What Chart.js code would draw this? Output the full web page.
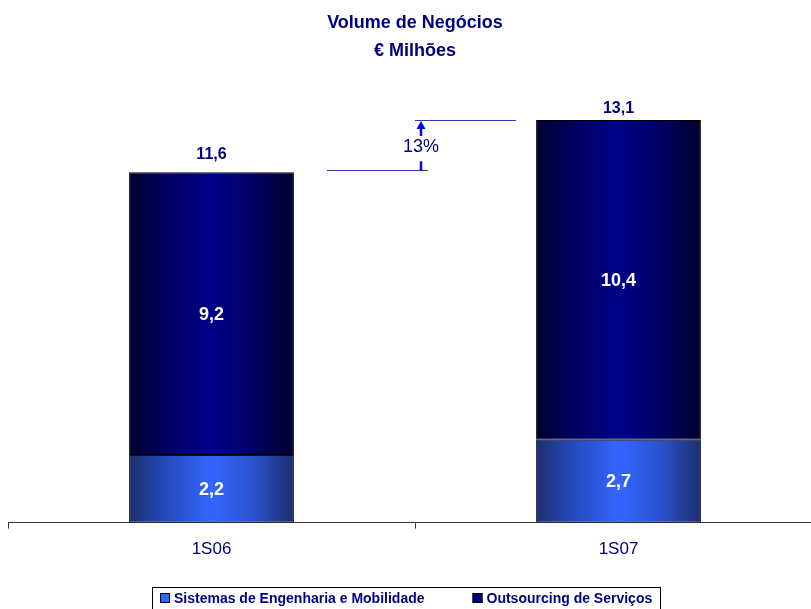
<!DOCTYPE html>
<html>
<head>
<meta charset="utf-8">
<script src="https://cdn.jsdelivr.net/npm/chart.js@4/dist/chart.umd.min.js"></script>
<style>
  html, body { margin: 0; padding: 0; background: #fff; overflow: hidden; }
  #wrap { width: 822px; height: 609px; }
</style>
</head>
<body>
<div id="wrap"><canvas id="volChart"></canvas></div>
<script>
const labels = ["1S06", "1S07"];
const sistemas = [2.2, 2.7];
const outsourcing = [9.2, 10.4];
const totals = [11.6, 13.1];
const growthLabel = "13%";
const seriesNames = ["Sistemas de Engenharia e Mobilidade", "Outsourcing de Serviços"];
const legendColors = ["#3366ff", "#000080"];

const NAVY = "#000080";
const FONT = "'Liberation Sans', Arial, sans-serif";

// horizontal shading across each bar, like the original
function barGradient(ctx, stops, fallback) {
    const chart = ctx.chart;
    const xs = chart.scales.x;
    if (!chart.chartArea || !xs || ctx.dataIndex === undefined) return fallback;
    const cx = xs.getPixelForValue(ctx.dataIndex);
    const w = (xs.width / labels.length) * 0.405;
    const g = chart.ctx.createLinearGradient(cx - w / 2, 0, cx + w / 2, 0);
    stops.forEach(s => g.addColorStop(s[0], s[1]));
    return g;
}
const lightStops = [[0, "#1c2e6c"], [0.2, "#2447b4"], [0.5, "#3366ff"], [0.75, "#2c52d0"], [1, "#1c2e6c"]];
const darkStops = [[0, "#00002e"], [0.25, "#000066"], [0.5, "#000088"], [0.75, "#000066"], [1, "#00002e"]];

function fmt(v) {
    return v.toFixed(1).replace(".", ",");
}

const labelPlugin = {
    id: "valueLabels",
    afterDatasetsDraw(chart) {
        const c = chart.ctx;
        c.save();
        c.textAlign = "center";
        c.textBaseline = "middle";
        c.font = "bold 18px " + FONT;
        c.fillStyle = "#ffffff";
        chart.data.datasets.forEach((ds, di) => {
            chart.getDatasetMeta(di).data.forEach((bar, i) => {
                c.fillText(fmt(ds.data[i]), bar.x, (bar.y + bar.base) / 2 + 1);
            });
        });
        // totals above the bars
        c.font = "bold 16px " + FONT;
        c.fillStyle = NAVY;
        const ys = chart.scales.y;
        const xs = chart.scales.x;
        totals.forEach((t, i) => {
            c.fillText(fmt(t), xs.getPixelForValue(i), ys.getPixelForValue(t) - 12);
        });

        // growth annotation between the two totals
        const mid = (xs.getPixelForValue(0) + xs.getPixelForValue(1)) / 2;
        const yLow = ys.getPixelForValue(totals[0]) + 4;
        const yHigh = ys.getPixelForValue(totals[1]);
        c.strokeStyle = "#3333aa";
        c.lineWidth = 1;
        c.beginPath();
        c.moveTo(mid - 88, Math.round(yLow) + 0.5); c.lineTo(mid + 13, Math.round(yLow) + 0.5);
        c.moveTo(mid, Math.round(yHigh) + 0.5); c.lineTo(mid + 101, Math.round(yHigh) + 0.5);
        c.stroke();
        const ax = mid + 6;
        c.strokeStyle = "#0000ff";
        c.fillStyle = "#0000ff";
        c.lineWidth = 2.5;
        c.beginPath();
        c.moveTo(ax, yHigh + 7); c.lineTo(ax, yHigh + 16);
        c.moveTo(ax, yLow - 9); c.lineTo(ax, yLow);
        c.stroke();
        c.beginPath();
        c.moveTo(ax, yHigh + 1); c.lineTo(ax - 4.5, yHigh + 9); c.lineTo(ax + 4.5, yHigh + 9);
        c.closePath();
        c.fill();
        c.font = "18px " + FONT;
        c.fillStyle = NAVY;
        c.fillText(growthLabel, ax, (yHigh + yLow) / 2 + 2);
        c.restore();
    },
    afterDraw(chart) {
        // framed legend at the foot, as in the source slide
        const c = chart.ctx;
        c.save();
        c.font = "bold 14px " + FONT;
        c.textBaseline = "middle";
        const sq = 10, gap = 4, between = 48, margin = 8;
        const widths = seriesNames.map(n => c.measureText(n).width);
        const total = margin * 2 + widths.reduce((a, w) => a + sq + gap + w, 0) + between;
        const left = Math.round(chart.width / 2 - 5 - total / 2);
        const top = 587;
        const cy = top + 11;
        c.strokeStyle = "#000000";
        c.lineWidth = 1;
        c.strokeRect(left + 0.5, top + 0.5, Math.round(total), 40);
        let x = left + margin;
        seriesNames.forEach((n, i) => {
            c.fillStyle = legendColors[i];
            c.fillRect(x, cy - sq / 2, sq, sq);
            c.strokeRect(x + 0.5, cy - sq / 2 + 0.5, sq - 1, sq - 1);
            c.fillStyle = NAVY;
            c.fillText(n, x + sq + gap, cy + 1);
            x += sq + gap + widths[i] + between;
        });
        c.restore();
    }
};

new Chart("volChart", {
    type: "bar",
    data: {
        labels: labels,
        datasets: [{
            label: seriesNames[0],
            data: sistemas,
            backgroundColor: ctx => barGradient(ctx, lightStops, "#3366ff"),
            borderColor: "#0a0a30",
            borderWidth: 1,
            borderSkipped: false,
            categoryPercentage: 0.405,
            barPercentage: 1
        }, {
            label: seriesNames[1],
            data: outsourcing,
            backgroundColor: ctx => barGradient(ctx, darkStops, "#000080"),
            borderColor: "#000000",
            borderWidth: 1,
            borderSkipped: false,
            categoryPercentage: 0.405,
            barPercentage: 1
        }]
    },
    options: {
        responsive: true,
        maintainAspectRatio: false,
        animation: false,
        layout: { padding: { left: 8, right: 0, top: 0, bottom: 38 } },
        scales: {
            x: {
                stacked: true,
                grid: { display: true, offset: true, drawOnChartArea: false, drawTicks: true, tickLength: 6, color: "#333333" },
                border: { display: true, color: "#333333", width: 1 },
                ticks: { color: NAVY, font: { family: FONT, size: 17 }, padding: 11 }
            },
            y: {
                stacked: true,
                display: false,
                min: 0,
                max: 14.9
            }
        },
        plugins: {
            title: {
                display: true,
                text: ["Volume de Negócios", "€ Milhões"],
                color: NAVY,
                font: { family: FONT, size: 18, weight: "bold", lineHeight: 1.55 },
                padding: { top: 9, bottom: 0 }
            },
            legend: { display: false },
            tooltip: { enabled: false }
        }
    },
    plugins: [labelPlugin]
});
</script>
</body>
</html>
